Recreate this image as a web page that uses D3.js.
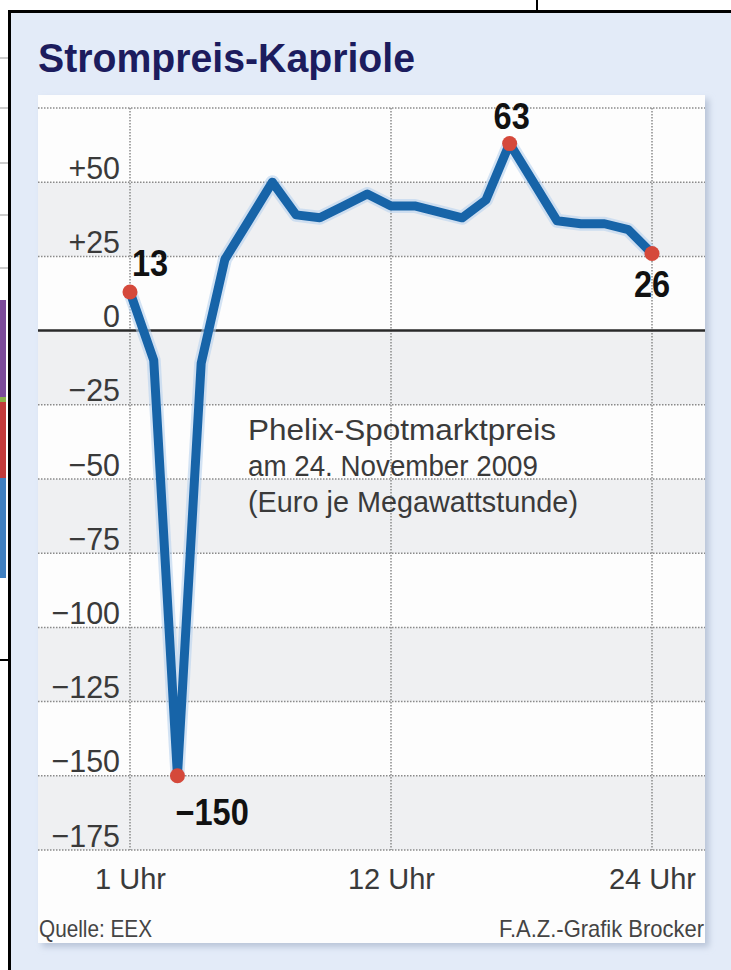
<!DOCTYPE html>
<html>
<head>
<meta charset="utf-8">
<script src="https://cdn.jsdelivr.net/npm/d3@7"></script>
<style>
body { margin:0; background:#fff; }
svg { display:block; }
text { font-family:"Liberation Sans","Roboto",sans-serif; }
</style>
</head>
<body>
<svg id="graph"></svg>
<script>
// hourly Phelix spot prices, Euro/MWh
var hours  = [1,2,3,4,5,6,7,8,9,10,11,12,13,14,15,16,17,18,19,20,21,22,23];
var prices = [13,-10,-150,-11,24,37,50,39,38,42,46,42,42,40,38,44,63,50,37,36,36,34,26];
var yTicks = [50,25,0,-25,-50,-75,-100,-125,-150,-175];
var yGrid  = [75,50,25,-25,-50,-75,-100,-125,-150,-175];
var xTicks = [1,12,23];
var xLabels = ["1 Uhr","12 Uhr","24 Uhr"];
var marked = [0,2,16,22];          // indices with red dots
var markLabels = ["13","\u2212150","63","26"];
var noteLines = ["Phelix-Spotmarktpreis","am 24. November 2009","(Euro je Megawattstunde)"];

var W = 731, H = 970;
var svg = d3.select("#graph").attr("width", W).attr("height", H);

// squeeze text horizontally (no condensed face installed)
squeeze = function(sel, f) {
    sel.each(function() {
        var l = this.getComputedTextLength();
        d3.select(this).attr("textLength", l*f).attr("lengthAdjust","spacingAndGlyphs");
    });
};

// scan leftovers round the box
var left = svg.append("g");
[58,108,163,215,268].forEach(function(yy){
    left.append("line").attr("x1",0).attr("x2",8).attr("y1",yy).attr("y2",yy)
        .attr("style","stroke:#999;stroke-width:1");
});
left.append("rect").attr("x",0).attr("y",300).attr("width",6).attr("height",97).attr("fill","#7b4a9a");
left.append("rect").attr("x",0).attr("y",397).attr("width",6).attr("height",5).attr("fill","#8ab04a");
left.append("rect").attr("x",0).attr("y",402).attr("width",6).attr("height",76).attr("fill","#c23a3a");
left.append("rect").attr("x",0).attr("y",478).attr("width",6).attr("height",100).attr("fill","#3f7fc0");
left.append("line").attr("x1",0).attr("x2",8).attr("y1",660).attr("y2",660).attr("style","stroke:#000;stroke-width:2");
svg.append("line").attr("x1",537).attr("x2",537).attr("y1",0).attr("y2",11).attr("style","stroke:#000;stroke-width:2");

// outer box
svg.append("rect").attr("x",9.5).attr("y",11.5).attr("width",800).attr("height",1000)
    .attr("fill","#e3ebf8").attr("stroke","#000").attr("stroke-width",3);

svg.append("text").attr("x",38).attr("y",72)
    .attr("textLength",377).attr("lengthAdjust","spacingAndGlyphs")
    .attr("style","font-size:40px;font-weight:bold;fill:#1c1c5e")
    .text("Strompreis-Kapriole");

// panel with shadow
var defs = svg.append("defs");
defs.append("filter").attr("id","sh").append("feGaussianBlur").attr("stdDeviation",3);
svg.append("rect").attr("x",42).attr("y",99).attr("width",667).attr("height",848)
    .attr("fill","#b9c5d8").attr("filter","url(#sh)");
svg.append("rect").attr("x",38).attr("y",95).attr("width",667).attr("height",848).attr("fill","#fdfdfd");

var px0 = 38, px1 = 705;
var x = d3.scaleLinear().domain([1,23]).range([130,652]);
var y = d3.scaleLinear().domain([-175,75]).range([850,108]);

// alternating bands: every other tick step is grey
svg.append("g").selectAll("rect")
    .data(yTicks.filter(function(d,i){ return i % 2 == 0; }))
    .enter().append("rect")
        .attr("x",px0).attr("width",px1-px0)
        .attr("y", function(d){ return y(d); })
        .attr("height", function(d){ return y(d-25) - y(d); })
        .attr("fill","#eff0f2");

// grid
svg.append("g").selectAll("line").data(yGrid).enter().append("line")
    .attr("x1",px0).attr("x2",px1)
    .attr("y1",function(d){ return y(d); }).attr("y2",function(d){ return y(d); })
    .attr("style","stroke:#8a8a8a;stroke-width:1.5;stroke-dasharray:1.5,1.5");
svg.append("g").selectAll("line").data(xTicks).enter().append("line")
    .attr("x1",function(d){ return x(d); }).attr("x2",function(d){ return x(d); })
    .attr("y1",y(75)).attr("y2",y(-175))
    .attr("style","stroke:#8a8a8a;stroke-width:1.5;stroke-dasharray:1.5,1.5");
svg.append("line").attr("x1",px0).attr("x2",px1).attr("y1",y(0)).attr("y2",y(0))
    .attr("style","stroke:#2a2a2a;stroke-width:2.5");

// axes
var fmt = function(d){ return d > 0 ? "+" + d : (d < 0 ? "\u2212" + (-d) : "0"); };
var ga = svg.append("g").attr("transform","translate(120,0)")
    .call(d3.axisLeft(y).tickValues(yTicks).tickFormat(fmt).tickSize(0).tickPadding(0));
ga.select(".domain").remove();
ga.selectAll("text").attr("x",0).attr("y",-4).attr("dy",0)
    .attr("style","font-size:32px;fill:#3a3a3a;font-family:'Liberation Sans',sans-serif");
squeeze(ga.selectAll("text"), 0.95);

var gx = svg.append("g").attr("transform","translate(0,889)")
    .call(d3.axisBottom(x).tickValues(xTicks).tickFormat(function(d,i){ return xLabels[i]; }).tickSize(0));
gx.select(".domain").remove();
gx.selectAll("text").attr("y",0).attr("dy",0)
    .attr("style","font-size:29px;fill:#3a3a3a;font-family:'Liberation Sans',sans-serif");

// note
var noteW = [308,290,330];
svg.append("g").selectAll("text").data(noteLines).enter().append("text")
    .attr("x",248).attr("y",function(d,i){ return 440 + i*36; })
    .attr("textLength",function(d,i){ return noteW[i]; }).attr("lengthAdjust","spacingAndGlyphs")
    .attr("style","font-size:30px;fill:#3a3a3a")
    .text(function(d){ return d; });

// line
var pts = hours.map(function(h,i){ return {h:h, v:prices[i]}; });
var line = d3.line().x(function(d){ return x(d.h); }).y(function(d){ return y(d.v); });
svg.append("path").datum(pts).attr("d",line)
    .attr("style","fill:none;stroke:#b8d2ee;stroke-width:14;stroke-linejoin:round;opacity:0.6");
svg.append("path").datum(pts).attr("d",line)
    .attr("style","fill:none;stroke:#1764a8;stroke-width:9;stroke-linejoin:round;stroke-linecap:round");

svg.append("g").selectAll("circle").data(marked).enter().append("circle")
    .attr("cx",function(i){ return x(hours[i]); }).attr("cy",function(i){ return y(prices[i]); })
    .attr("r",7.5).attr("fill","#d5493b");

// point labels
var place = [{dx:2,dy:-16,a:"start"},{dx:-2,dy:49,a:"start"},{dx:2,dy:-15,a:"middle"},{dx:0,dy:44,a:"middle"}];
var pl = svg.append("g").selectAll("text").data(marked).enter().append("text")
    .attr("x",function(i,k){ return x(hours[i]) + place[k].dx; })
    .attr("y",function(i,k){ return y(prices[i]) + place[k].dy; })
    .attr("text-anchor",function(i,k){ return place[k].a; })
    .attr("style","font-size:37px;font-weight:bold;fill:#111")
    .text(function(i,k){ return markLabels[k]; });
squeeze(pl, 0.88);

// footer
svg.append("text").attr("x",39).attr("y",937)
    .attr("textLength",113).attr("lengthAdjust","spacingAndGlyphs")
    .attr("style","font-size:24px;fill:#444").text("Quelle: EEX");
svg.append("text").attr("x",704).attr("y",937).attr("text-anchor","end")
    .attr("textLength",205).attr("lengthAdjust","spacingAndGlyphs")
    .attr("style","font-size:24px;fill:#444").text("F.A.Z.-Grafik Brocker");
</script>
</body>
</html>
